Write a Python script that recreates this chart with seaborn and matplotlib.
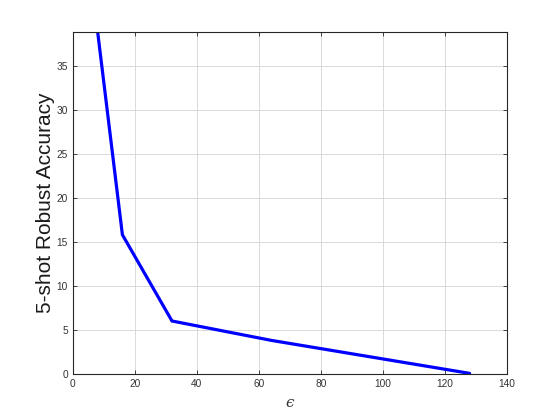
import matplotlib
matplotlib.use("Agg")
import matplotlib.pyplot as plt
import seaborn as sns
import pandas as pd

# values
EPSILON = [8, 16, 32, 64, 128]
ACCURACY = [38.9, 15.8, 6.0, 3.8, 0.05]

X_TICKS = [0, 20, 40, 60, 80, 100, 120, 140]
Y_TICKS = [0, 5, 10, 15, 20, 25, 30, 35]


def main() -> None:
    sns.set_style("white")
    plt.rcParams["font.family"] = ["Liberation Sans", "DejaVu Sans"]

    df = pd.DataFrame({"eps": EPSILON, "acc": ACCURACY})

    fig = plt.figure(figsize=(5.6, 4.2), dpi=100)
    ax = fig.add_axes([0.13, 0.11, 0.775, 0.815])

    sns.lineplot(data=df, x="eps", y="acc", ax=ax, color="#0000ff",
                 linewidth=2.3, solid_joinstyle="miter")

    ax.set_xlim(0, 140)
    ax.set_ylim(0, 38.9)
    ax.set_xticks(X_TICKS)
    ax.set_yticks(Y_TICKS)
    ax.grid(True, color="#d4d4d4", linewidth=0.6)
    ax.set_axisbelow(True)

    for side in ["top", "right", "bottom", "left"]:
        ax.spines[side].set_visible(True)
        ax.spines[side].set_color("#262626")
        ax.spines[side].set_linewidth(0.8)
    ax.tick_params(direction="in", length=3, width=0.6, labelsize=7.3,
                   labelcolor="#333333", color="#262626",
                   top=True, right=True, bottom=True, left=True, pad=3.5)

    ax.set_xlabel("\u03f5", fontsize=11, style="italic", color="#333333",
                  family=["DejaVu Serif", "DejaVu Sans"], labelpad=5)
    ax.set_ylabel("5-shot Robust Accuracy", fontsize=15, color="#1a1a1a",
                  labelpad=1)

    fig.savefig("out.png", dpi=100)
    plt.close(fig)


if __name__ == "__main__":
    main()
